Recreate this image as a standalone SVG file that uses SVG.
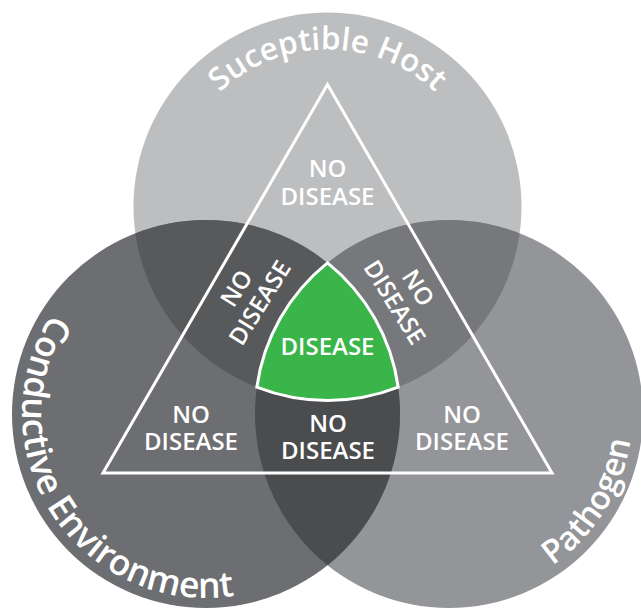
<svg xmlns="http://www.w3.org/2000/svg" xmlns:xlink="http://www.w3.org/1999/xlink" width="641" height="609" viewBox="0 0 641 609">
  <style>
    .lbl{font-family:"Open Sans","Liberation Sans",sans-serif;font-weight:600;font-size:24px;fill:#fff;text-anchor:middle}
    .ttl{font-family:"Open Sans","Liberation Sans",sans-serif;font-weight:600;fill:#fff;text-anchor:middle}
    .edge{fill:none;stroke:#fff;stroke-width:3}
  </style>
  <defs>
    <clipPath id="inHost"><circle cx="327.5" cy="206.5" r="194"/></clipPath>
    <clipPath id="inEnv"><circle cx="206" cy="414" r="194"/></clipPath>
    <!-- baselines for the curved circle titles -->
    <path id="arcHost" d="M170.5,206.5 A157,157 0 0 1 484.5,206.5"/>
    <path id="arcEnv" d="M134.1,244.6 A184,184 0 1 0 331.5,548.6"/>
    <path id="arcPath" d="M365.5,577.9 A184,184 0 0 0 559.7,267.1"/>
  </defs>

  <rect width="641" height="609" fill="#fff"/>

  <!-- the three factor circles -->
  <g id="host"><circle cx="327.5" cy="206.5" r="194" fill="#bcbec0"/></g>
  <g id="pathogen"><circle cx="449" cy="414" r="194" fill="#939598"/></g>
  <g id="environment"><circle cx="206" cy="414" r="194" fill="#6d6e71"/></g>

  <!-- pairwise overlaps -->
  <g id="host-environment"><circle cx="206" cy="414" r="194" fill="#58595b" clip-path="url(#inHost)"/></g>
  <g id="host-pathogen"><circle cx="449" cy="414" r="194" fill="#77787b" clip-path="url(#inHost)"/></g>
  <g id="environment-pathogen"><circle cx="449" cy="414" r="194" fill="#4b4c4e" clip-path="url(#inEnv)"/></g>

  <!-- disease triangle -->
  <g id="triangle"><polygon class="edge" points="327.5,84.5 103,473 552,473"/></g>

  <!-- three-way intersection -->
  <g id="disease">
    <path d="M327.5,262.8 A194,194 0 0 0 256.8,387.2 A194,194 0 0 0 398.2,387.2 A194,194 0 0 0 327.5,262.8 Z" fill="#39b54a" stroke="#fff" stroke-width="3"/>
    <text class="lbl" x="327.5" y="355">DISEASE</text>
  </g>

  <!-- region labels -->
  <g id="label-host">
    <text class="lbl"><tspan x="327.5" y="177">NO</tspan><tspan x="327.5" y="205">DISEASE</tspan></text>
  </g>
  <g id="label-host-environment" transform="translate(248,295.5) rotate(-58)">
    <text class="lbl"><tspan x="0" y="-5.3">NO</tspan><tspan x="0" y="22.3">DISEASE</tspan></text>
  </g>
  <g id="label-host-pathogen" transform="translate(406.5,295) rotate(58)">
    <text class="lbl"><tspan x="0" y="-5.3">NO</tspan><tspan x="0" y="22.3">DISEASE</tspan></text>
  </g>
  <g id="label-environment">
    <text class="lbl"><tspan x="191" y="422.7">NO</tspan><tspan x="191" y="450">DISEASE</tspan></text>
  </g>
  <g id="label-environment-pathogen">
    <text class="lbl"><tspan x="328" y="431.7">NO</tspan><tspan x="328" y="459.3">DISEASE</tspan></text>
  </g>
  <g id="label-pathogen">
    <text class="lbl"><tspan x="462" y="422.7">NO</tspan><tspan x="462" y="450">DISEASE</tspan></text>
  </g>

  <!-- circle titles -->
  <g id="titles">
    <text class="ttl" font-size="31.5"><textPath xlink:href="#arcHost" href="#arcHost" startOffset="50%">Suceptible Host</textPath></text>
    <text class="ttl" font-size="35.5"><textPath xlink:href="#arcEnv" href="#arcEnv" startOffset="50%">Conductive Environment</textPath></text>
    <text class="ttl" font-size="33"><textPath xlink:href="#arcPath" href="#arcPath" startOffset="50%">Pathogen</textPath></text>
  </g>
</svg>
